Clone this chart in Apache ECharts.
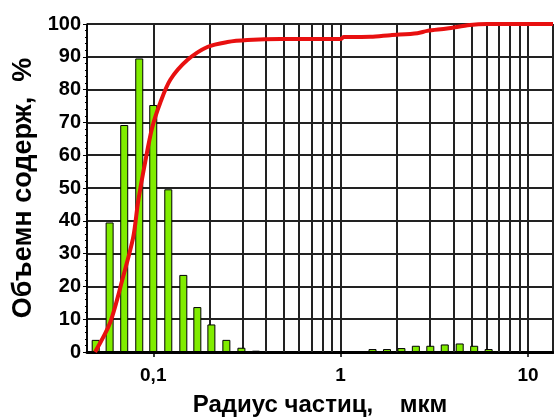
<!DOCTYPE html>
<html><head><meta charset="utf-8">
<script src="https://cdn.jsdelivr.net/npm/echarts@6/dist/echarts.min.js"></script>
<style>html,body{margin:0;padding:0;background:#fff}#c{width:554px;height:417px}</style>
</head><body><div id="c"></div>
<script>
// Histogram bins (radius, µm) and volume content (%)
const binCenters = [0.0493, 0.0585, 0.0700, 0.0842, 0.100, 0.1203, 0.1447, 0.1719, 0.2043, 0.2456, 0.2955, 0.3532,
                    1.239, 1.480, 1.768, 2.111, 2.521, 3.011, 3.596, 4.321, 5.162, 6.166];
const binValues  = [3.7, 39.5, 69.2, 89.5, 75.3, 49.6, 23.5, 13.7, 8.4, 3.7, 1.3, 0.4,
                    0.3, 0.9, 0.9, 1.2, 1.9, 1.9, 2.3, 2.6, 1.9, 0.9];
// Cumulative curve
const curveX = [0.0489, 0.0589, 0.0691, 0.0782, 0.0831, 0.0906, 0.0988, 0.109, 0.1233, 0.152, 0.1944, 0.2488, 0.318, 0.478, 1.0, 1.037, 1.445, 1.844, 2.57, 2.9, 3.7, 4.9, 6.05, 13.6];
const curveY = [0, 9, 23, 35, 46, 58, 68.5, 76, 83, 89, 93, 94.5, 95.1, 95.4, 95.4, 96.0, 96.1, 96.6, 97.2, 97.9, 98.6, 99.7, 100, 100];
// Axis ticks
const xMajorTicks = [0.1, 1, 10];
const xTickLabels = ['0,1', '1', '10'];
const xMinorGrid = [0.2, 0.3, 0.4, 0.5, 0.6, 0.7, 0.8, 0.9, 2, 3, 4, 5, 6, 7, 8, 9];
const xRange = [0.0443, 13.6];
const yRange = [0, 100];
const yStep = 10;
const xTitle = 'Радиус частиц,    мкм';
const yTitle = 'Объемн содерж,  %';

const font = '"Liberation Sans", Arial, sans-serif';
const chart = echarts.init(document.getElementById('c'));
chart.setOption({
  animation: false,
  grid: {left: 87, right: 1, top: 24, bottom: 65, containLabel: false, outerBoundsMode: 'none'},
  xAxis: {
    type: 'log', logBase: 10, min: xRange[0], max: xRange[1],
    name: xTitle, nameLocation: 'middle', nameGap: 41,
    nameTextStyle: {fontFamily: font, fontWeight: 'bold', fontSize: 24, color: '#000'},
    axisLine: {show: true, onZero: false, lineStyle: {color: '#000', width: 3}},
    axisTick: {show: true, length: 5, lineStyle: {color: '#000', width: 1.5}},
    axisLabel: {
      fontFamily: font, fontWeight: 'bold', fontSize: 19, color: '#000', margin: 14,
      showMinLabel: false, showMaxLabel: false,
      formatter: function (v) {
        for (let i = 0; i < xMajorTicks.length; i++) {
          if (Math.abs(v / xMajorTicks[i] - 1) < 1e-6) return xTickLabels[i];
        }
        return '';
      }
    },
    splitLine: {show: true, lineStyle: {color: '#222', width: 2}}
  },
  yAxis: {
    type: 'value', min: yRange[0], max: yRange[1], interval: yStep,
    name: yTitle, nameLocation: 'middle', nameGap: 49,
    nameTextStyle: {fontFamily: font, fontWeight: 'bold', fontSize: 27, color: '#000'},
    axisLine: {show: true, lineStyle: {color: '#000', width: 1.5}},
    axisTick: {show: true, length: 4, lineStyle: {color: '#000'}},
    minorTick: {show: true, splitNumber: 5, length: 2, lineStyle: {color: '#000'}},
    axisLabel: {fontFamily: font, fontWeight: 'bold', fontSize: 20, color: '#000', margin: 6},
    splitLine: {show: true, lineStyle: {color: '#222', width: 2}}
  },
  series: [
    {
      type: 'line', data: [], z: 1, silent: true,
      markLine: {
        z: 1, silent: true, symbol: 'none', label: {show: false},
        lineStyle: {color: '#222', width: 2, type: 'solid'},
        data: xMinorGrid.map(v => ({xAxis: v}))
      }
    },
    {
      type: 'bar', barWidth: 8, z: 2,
      itemStyle: {color: '#80ec00', borderColor: '#000', borderWidth: 1},
      data: binCenters.map((x, i) => [x, binValues[i]])
    },
    {
      type: 'line', z: 3, smooth: 0.3, symbol: 'none',
      lineStyle: {color: '#e81010', width: 4},
      data: curveX.map((x, i) => [x, curveY[i]])
    }
  ]
});
</script></body></html>
